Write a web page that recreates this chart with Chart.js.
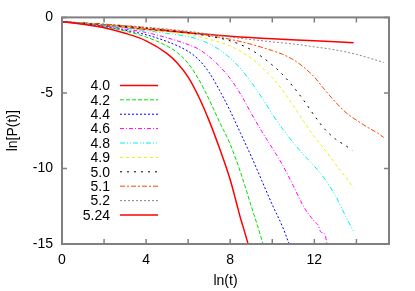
<!DOCTYPE html>
<html>
<head>
<meta charset="utf-8">
<script src="https://cdn.jsdelivr.net/npm/chart.js@4"></script>
<style>
  html, body { margin: 0; padding: 0; background: #fff; }
  #wrap { width: 415px; height: 291px; }
</style>
</head>
<body>
<div id="wrap"><canvas id="myChart"></canvas></div>
<script>
// series: ln(t) / ln[P(t)] pairs
var labels = ["4.0", "4.2", "4.4", "4.6", "4.8", "4.9", "5.0", "5.1", "5.2", "5.24"];

var lnT_40 = [0, 1, 2, 3, 4, 5, 5.5, 6, 6.5, 7, 7.5, 8, 8.3, 8.5, 8.6, 8.85];
var lnP_40 = [-0.28, -0.45, -0.68, -1.05, -1.55, -2.4, -3.05, -3.95, -5.25, -6.85, -8.7, -10.75, -12.3, -13.35, -13.8, -15];

var lnT_42 = [0, 1, 2, 3, 4, 5, 5.5, 6, 6.5, 7, 7.5, 8, 8.5, 9, 9.3, 9.56];
var lnP_42 = [-0.28, -0.43, -0.63, -0.9, -1.3, -1.9, -2.35, -3.05, -4.1, -5.45, -6.95, -8.4, -10.3, -12.5, -13.8, -15];

var lnT_44 = [0, 1, 2, 3, 4, 5, 6, 6.5, 7, 7.5, 8, 8.5, 9, 9.5, 10, 10.5, 10.8];
var lnP_44 = [-0.28, -0.42, -0.6, -0.85, -1.15, -1.6, -2.25, -2.8, -3.65, -4.85, -6.2, -7.7, -9.2, -10.8, -12.4, -13.9, -15];

var lnT_46 = [0, 1, 2, 3, 4, 5, 6, 6.5, 7, 7.5, 8, 8.5, 9, 9.5, 10, 10.5, 11, 11.5, 12, 12.2, 12.3, 12.5, 12.6];
var lnP_46 = [-0.28, -0.41, -0.57, -0.77, -1.0, -1.35, -1.8, -2.1, -2.6, -3.25, -4.05, -5.1, -6.35, -7.55, -8.65, -9.8, -11.15, -12.55, -13.5, -13.8, -14.2, -14.35, -15];

var lnT_48 = [0, 1, 2, 3, 4, 5, 6, 6.5, 7, 7.5, 8, 8.5, 9, 9.5, 10, 10.5, 11, 11.5, 12, 12.5, 13, 13.5, 13.87];
var lnP_48 = [-0.28, -0.4, -0.53, -0.7, -0.88, -1.06, -1.27, -1.45, -1.75, -2.15, -2.7, -3.4, -4.3, -5.3, -6.4, -7.4, -8.3, -9.1, -9.85, -10.7, -11.8, -13.2, -14.2];

var lnT_49 = [0, 2, 4, 6, 7, 8, 9, 9.5, 10, 10.5, 11, 11.5, 12, 12.5, 13, 13.5, 13.87];
var lnP_49 = [-0.28, -0.5, -0.8, -1.15, -1.45, -1.9, -2.7, -3.3, -4.0, -4.85, -5.85, -6.9, -7.9, -8.75, -9.7, -10.6, -11.3];

var lnT_50 = [0, 2, 4, 6, 7, 8, 9, 10, 10.5, 11, 11.5, 12, 12.5, 13, 13.5, 13.8];
var lnP_50 = [-0.28, -0.48, -0.72, -1.02, -1.25, -1.55, -2.15, -3.15, -3.8, -4.6, -5.5, -6.5, -7.4, -8.05, -8.5, -8.8];

var lnT_51 = [0, 2, 4, 6, 7, 8, 9, 10, 10.5, 11, 11.5, 12, 12.5, 13, 13.5, 14, 14.5, 15, 15.3];
var lnP_51 = [-0.28, -0.45, -0.68, -0.98, -1.2, -1.45, -1.78, -2.2, -2.45, -2.8, -3.3, -3.95, -4.8, -5.6, -6.3, -6.8, -7.25, -7.65, -7.95];

var lnT_52 = [0, 2, 4, 6, 8, 10, 11, 12, 13, 14, 15, 15.3];
var lnP_52 = [-0.28, -0.45, -0.65, -0.92, -1.3, -1.62, -1.76, -1.95, -2.15, -2.45, -2.85, -2.98];

var lnT_524 = [0, 2, 4, 6, 8, 10, 12, 13.87];
var lnP_524 = [-0.28, -0.5, -0.78, -1.02, -1.25, -1.42, -1.54, -1.67];

var xTicks = [0, 4, 8, 12];
var yTicks = [0, -5, -10, -15];

function pairs(xs, ys) {
  var out = [];
  for (var i = 0; i < xs.length; i++) out.push({x: xs[i], y: ys[i]});
  return out;
}

var seriesX = [lnT_40, lnT_42, lnT_44, lnT_46, lnT_48, lnT_49, lnT_50, lnT_51, lnT_52, lnT_524];
var seriesY = [lnP_40, lnP_42, lnP_44, lnP_46, lnP_48, lnP_49, lnP_50, lnP_51, lnP_52, lnP_524];
var colors = ["#ff0000", "#00e000", "#0000ff", "#ff00ff", "#00eeee", "#eeee00", "#000000", "#ff4500", "#888888", "#ff0000"];
var dashes = [[], [4, 2], [2, 2], [4, 2, 1, 2], [5, 2, 1, 2, 1, 2], [3, 3], [2, 5], [5, 2, 2, 2], [2, 2], []];
var widths = [1.5, 1, 1, 1, 1, 1, 1, 1, 1, 1.5];

var datasets = [];
for (var i = 0; i < labels.length; i++) {
  datasets.push({
    label: labels[i],
    data: pairs(seriesX[i], seriesY[i]),
    borderColor: colors[i],
    borderWidth: widths[i],
    borderDash: dashes[i],
    pointRadius: 0,
    fill: false,
    cubicInterpolationMode: 'monotone'
  });
}

var FONT = "'Liberation Sans', Arial, sans-serif";

// gnuplot style frame with inward ticks on all four sides
var framePlugin = {
  id: 'frame',
  afterDatasetsDraw: function(chart) {
    var ctx = chart.ctx, a = chart.chartArea;
    var xs = chart.scales.x, ys = chart.scales.y;
    ctx.save();
    ctx.strokeStyle = '#808080';
    ctx.lineWidth = 1.5;
    ctx.beginPath();
    for (var v = 0; v <= xs.max; v += 2) {
      var px = xs.getPixelForValue(v);
      ctx.moveTo(px, a.bottom); ctx.lineTo(px, a.bottom - 5);
      ctx.moveTo(px, a.top); ctx.lineTo(px, a.top + 5);
    }
    for (var j = 0; j < yTicks.length; j++) {
      var py = ys.getPixelForValue(yTicks[j]);
      ctx.moveTo(a.left, py); ctx.lineTo(a.left + 5, py);
      ctx.moveTo(a.right, py); ctx.lineTo(a.right - 5, py);
    }
    ctx.stroke();
    ctx.lineWidth = 2;
    ctx.strokeRect(a.left, a.top, a.right - a.left, a.bottom - a.top);
    ctx.restore();
  }
};

// key inside the plot: label text on the left, line sample on the right
var keyPlugin = {
  id: 'key',
  afterDraw: function(chart) {
    var ctx = chart.ctx, a = chart.chartArea;
    ctx.save();
    ctx.font = '14px ' + FONT;
    ctx.textAlign = 'right';
    ctx.textBaseline = 'middle';
    chart.data.datasets.forEach(function(ds, i) {
      var y = a.top + 68 + i * 14.4;
      ctx.fillStyle = '#000';
      ctx.fillText(ds.label, a.left + 48, y + 1);
      ctx.strokeStyle = ds.borderColor;
      ctx.lineWidth = ds.borderWidth;
      ctx.setLineDash(ds.borderDash);
      ctx.beginPath();
      ctx.moveTo(a.left + 58, y);
      ctx.lineTo(a.left + 96, y);
      ctx.stroke();
    });
    ctx.restore();
  }
};

var ctx = document.getElementById("myChart").getContext("2d");
var chart = new Chart(ctx, {
  type: "line",
  data: { datasets: datasets },
  options: {
    responsive: true,
    maintainAspectRatio: false,
    animation: false,
    layout: { padding: { left: 0, top: 17, right: 26, bottom: 0 } },
    plugins: { legend: { display: false }, tooltip: { enabled: false } },
    scales: {
      x: {
        type: 'linear',
        min: 0,
        max: 15.55,
        afterFit: function(s) { s.height = 47; },
        afterBuildTicks: function(s) { s.ticks = xTicks.map(function(v) { return {value: v}; }); },
        grid: { display: false, drawTicks: false },
        border: { display: false },
        ticks: { color: '#000', padding: 8, maxRotation: 0, font: { family: FONT, size: 14 } },
        title: { display: true, text: 'ln(t)', color: '#000', padding: { top: 0, bottom: 1 }, font: { family: FONT, size: 14 } }
      },
      y: {
        type: 'linear',
        min: -15,
        max: 0,
        afterFit: function(s) { s.width = 62; },
        afterBuildTicks: function(s) { s.ticks = yTicks.map(function(v) { return {value: v}; }); },
        grid: { display: false, drawTicks: false },
        border: { display: false },
        ticks: { color: '#000', padding: 9, font: { family: FONT, size: 14 } },
        title: { display: true, text: 'ln[P(t)]', color: '#000', padding: { top: 5, bottom: 0 }, font: { family: FONT, size: 14 } }
      }
    }
  },
  plugins: [framePlugin, keyPlugin]
});
</script>
</body>
</html>
